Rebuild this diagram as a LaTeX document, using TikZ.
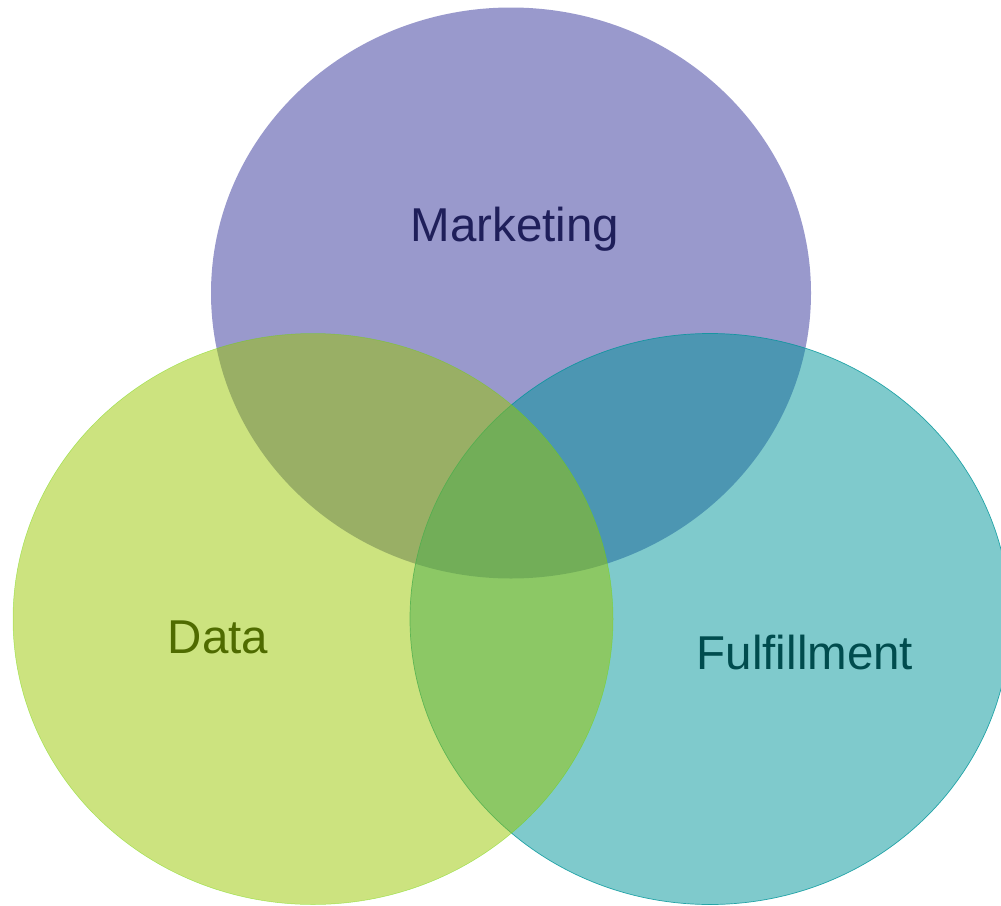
\documentclass[tikz,border=0pt]{standalone}
\usepackage{fontspec}
\setmainfont{Liberation Sans}
\usetikzlibrary{shapes.geometric}

\definecolor{mktcolor}{RGB}{51,51,153}
\definecolor{fulcolor}{RGB}{0,149,153}
\definecolor{datcolor}{RGB}{153,199,0}
\definecolor{mkttext}{RGB}{31,31,90}
\definecolor{fultext}{RGB}{0,76,78}
\definecolor{dattext}{RGB}{79,107,0}

\begin{document}
\begin{tikzpicture}[x=1pt,y=-1pt]
\tikzstyle{set}=[ellipse,minimum width=600pt,minimum height=571pt,inner sep=0pt,fill opacity=0.5]
\tikzstyle{setlabel}=[font=\fontsize{47.5}{56}\selectfont,inner sep=0pt]

\useasboundingbox (0,0) rectangle (1001,905);

% the three sets, marketing first, data on top
\node[set,fill=mktcolor] (mkt) at (511,293) {};
\node[set,fill=fulcolor,draw=fulcolor,line width=0.7pt,draw opacity=0.8] (ful) at (710,619) {};
\node[set,fill=datcolor,draw=datcolor!70!green,line width=0.5pt,draw opacity=0.5] (dat) at (313,619) {};

% labels
\node[setlabel,text=mkttext] (mktName) at (515,229) {Marketing};
\node[setlabel,text=dattext] (datName) at (218,637) {Data};
\node[setlabel,text=fultext] (fulName) at (805,653) {Fulfillment};

\end{tikzpicture}
\end{document}
